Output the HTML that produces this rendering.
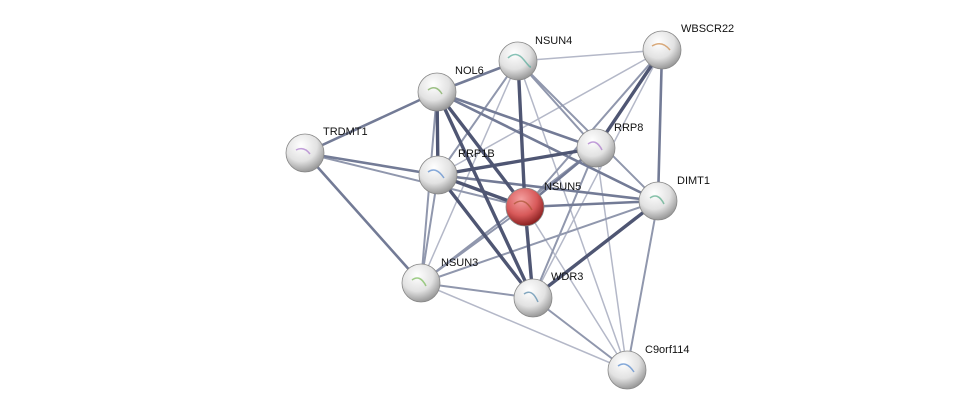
<!DOCTYPE html>
<html><head><meta charset="utf-8"><style>
html,body{margin:0;padding:0;background:#fff;}
svg{display:block}
text{font-family:"Liberation Sans",sans-serif;font-size:11px;fill:#111}
</style></head><body>
<svg width="976" height="416" viewBox="0 0 976 416" xmlns="http://www.w3.org/2000/svg">
<defs>
<radialGradient id="g" cx="40%" cy="30%" r="70%">
<stop offset="0" stop-color="#ffffff"/><stop offset="0.6" stop-color="#e2e2e2"/><stop offset="1" stop-color="#9a9a9a"/>
</radialGradient>
<radialGradient id="r" cx="40%" cy="30%" r="70%">
<stop offset="0" stop-color="#f4a0a0"/><stop offset="0.6" stop-color="#d85a5a"/><stop offset="1" stop-color="#8a2020"/>
</radialGradient>
</defs>
<g stroke-linecap="round">
<!-- light -->
<g stroke="#b4b8c8" stroke-width="1.5">
<line x1="518" y1="61" x2="662" y2="50"/>
<line x1="421" y1="283" x2="627" y2="370"/>
<line x1="596" y1="148" x2="627" y2="370"/>
<line x1="518" y1="61" x2="421" y2="283"/>
<line x1="662" y1="50" x2="533" y2="298"/>
<line x1="662" y1="50" x2="438" y2="175"/>
<line x1="525" y1="207" x2="627" y2="370"/>
<line x1="518" y1="61" x2="627" y2="370"/>
</g>
<g stroke="#9097ad" stroke-width="2">
<line x1="305" y1="153" x2="525" y2="207"/>
<line x1="518" y1="61" x2="438" y2="175"/>
<line x1="518" y1="61" x2="596" y2="148"/>
<line x1="518" y1="61" x2="658" y2="201"/>
<line x1="662" y1="50" x2="525" y2="207"/>
<line x1="596" y1="148" x2="533" y2="298"/>
<line x1="596" y1="148" x2="421" y2="283"/>
<line x1="438" y1="175" x2="421" y2="283"/>
<line x1="437" y1="92" x2="421" y2="283"/>
<line x1="525" y1="207" x2="421" y2="283"/>
<line x1="658" y1="201" x2="627" y2="370"/>
<line x1="421" y1="283" x2="533" y2="298"/>
<line x1="533" y1="298" x2="627" y2="370"/>
<line x1="658" y1="201" x2="421" y2="283"/>
</g>
<g stroke="#737b96" stroke-width="2.6">
<line x1="305" y1="153" x2="437" y2="92"/>
<line x1="305" y1="153" x2="438" y2="175"/>
<line x1="305" y1="153" x2="421" y2="283"/>
<line x1="437" y1="92" x2="518" y2="61"/>
<line x1="437" y1="92" x2="596" y2="148"/>
<line x1="437" y1="92" x2="658" y2="201"/>
<line x1="662" y1="50" x2="658" y2="201"/>
<line x1="438" y1="175" x2="658" y2="201"/>
<line x1="525" y1="207" x2="658" y2="201"/>
<line x1="596" y1="148" x2="525" y2="207"/>
</g>
<g stroke="#4f5673" stroke-width="3.4">
<line x1="437" y1="92" x2="438" y2="175"/>
<line x1="437" y1="92" x2="525" y2="207"/>
<line x1="437" y1="92" x2="533" y2="298"/>
<line x1="518" y1="61" x2="525" y2="207"/>
<line x1="662" y1="50" x2="596" y2="148"/>
<line x1="596" y1="148" x2="438" y2="175"/>
<line x1="438" y1="175" x2="525" y2="207"/>
<line x1="438" y1="175" x2="533" y2="298"/>
<line x1="525" y1="207" x2="533" y2="298"/>
<line x1="658" y1="201" x2="533" y2="298"/>
</g>
</g>
<g stroke="#888" stroke-width="0.8">
<circle cx="518" cy="61" r="19" fill="url(#g)"/>
<circle cx="662" cy="50" r="19" fill="url(#g)"/>
<circle cx="437" cy="92" r="19" fill="url(#g)"/>
<circle cx="305" cy="153" r="19" fill="url(#g)"/>
<circle cx="596" cy="148" r="19" fill="url(#g)"/>
<circle cx="438" cy="175" r="19" fill="url(#g)"/>
<circle cx="658" cy="201" r="19" fill="url(#g)"/>
<circle cx="421" cy="283" r="19" fill="url(#g)"/>
<circle cx="533" cy="298" r="19" fill="url(#g)"/>
<circle cx="627" cy="370" r="19" fill="url(#g)"/>
<circle cx="525" cy="207" r="19" fill="url(#r)"/>
</g>
<g opacity="0.7" stroke-width="1.5" fill="none">
<path d="M508 58 q8 -8 16 2 t6 6" stroke="#5a9"/>
<path d="M652 46 q10 -6 18 4" stroke="#c84"/>
<path d="M428 90 q8 -6 14 4" stroke="#7a5"/>
<path d="M296 150 q8 -4 14 4" stroke="#a7c"/>
<path d="M588 144 q8 -6 14 6" stroke="#a7c"/>
<path d="M428 172 q8 -6 16 6" stroke="#58c"/>
<path d="M650 198 q8 -6 14 6" stroke="#5a8"/>
<path d="M412 280 q8 -6 14 6" stroke="#7b5"/>
<path d="M524 294 q8 -6 14 8" stroke="#58a"/>
<path d="M618 366 q8 -6 16 6" stroke="#58c"/>
<path d="M514 204 q10 -8 18 6" stroke="#a53"/>
</g>
<text x="535" y="44">NSUN4</text>
<text x="681" y="32">WBSCR22</text>
<text x="455" y="74">NOL6</text>
<text x="323" y="135">TRDMT1</text>
<text x="614" y="131">RRP8</text>
<text x="458" y="157">RRP1B</text>
<text x="544" y="190">NSUN5</text>
<text x="677" y="184">DIMT1</text>
<text x="441" y="266">NSUN3</text>
<text x="551" y="280">WDR3</text>
<text x="645" y="353">C9orf114</text>
</svg>
</body></html>
